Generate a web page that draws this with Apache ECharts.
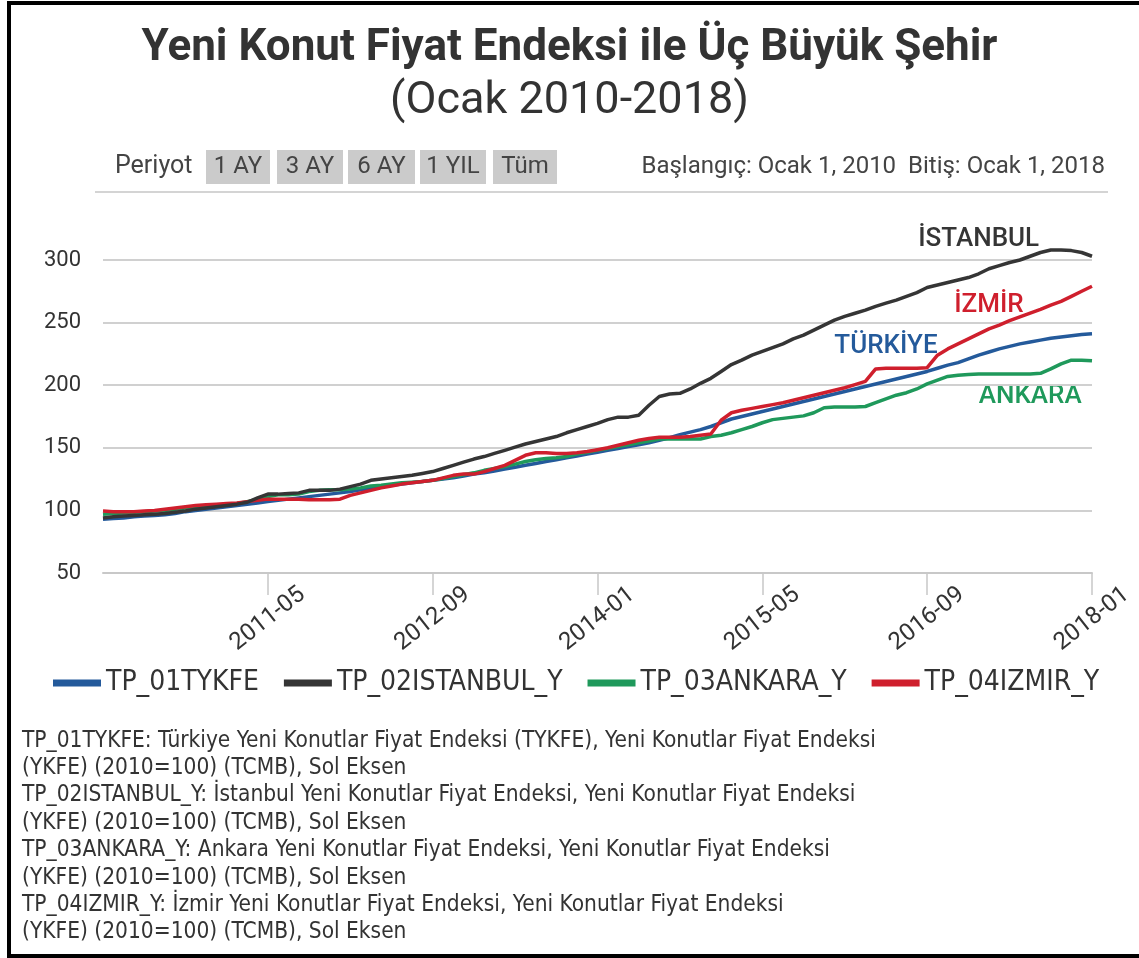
<!DOCTYPE html>
<html>
<head>
<meta charset="utf-8">
<script src="https://cdn.jsdelivr.net/npm/echarts@6/dist/echarts.min.js"></script>
<style>
  html, body { margin: 0; padding: 0; background: #fff; }
  #chart { width: 1139px; height: 958px; }
</style>
</head>
<body>
<div id="chart"></div>
<script>
// monthly, 2010-01 .. 2018-01
const months = [];
for (let y = 2010; y <= 2018; y++) {
    for (let m = 1; m <= 12; m++) {
        if (y === 2018 && m > 1) break;
        months.push(y + "-" + String(m).padStart(2, "0"));
    }
}

const seriesNames = ["TP_01TYKFE", "TP_02ISTANBUL_Y", "TP_03ANKARA_Y", "TP_04IZMIR_Y"];
const seriesColors = ["#245a9b", "#353535", "#1f995b", "#cf1f2d"];

const turkiye = [
    93, 93.5, 94, 95, 95.5, 96, 96.5, 97.5, 99, 100, 101, 102,
    103, 104, 105, 106, 107, 108, 109, 110, 111, 112, 113, 114,
    115, 116.5, 117.5, 119, 120, 121, 122, 123, 124, 125, 126, 127.5,
    129, 130, 131.5, 133, 134.5, 136, 137.5, 139, 140.5, 142, 143.5, 145,
    146.5, 148, 149.5, 151, 152.5, 154, 156, 158, 160.5, 162.5, 164.5, 167,
    170, 173, 175, 177, 179, 181, 183, 185, 187, 189, 191, 193,
    195, 197, 199, 201, 203, 205, 207, 209, 211, 213.5, 216, 218,
    221, 224, 226.5, 229, 231, 233, 234.5, 236, 237.5, 238.5, 239.5, 240.5,
    241
];

const istanbul = [
    94, 95, 95.5, 96, 96.5, 97, 97.5, 98.5, 99.5, 101, 102, 103,
    104, 105, 106.5, 110, 113, 113, 113.5, 114, 116, 116, 116, 117,
    119, 121, 124, 125, 126, 127, 128, 129.5, 131, 133.5, 136, 138.5,
    141, 143, 145.5, 148, 150.5, 153, 155, 157, 159, 162, 164.5, 167,
    169.5, 172.5, 174.5, 174.5, 176, 184, 191, 193, 193.5, 197, 201.5, 205.5,
    211, 216.5, 220, 224, 227, 230, 233, 237, 240, 244, 248, 252,
    255, 257.5, 260, 263, 265.5, 268, 271, 274, 278, 280, 282, 284,
    286, 289, 293, 295.5, 298, 300, 303, 306, 308, 308, 307.5, 306,
    303
];

const ankara = [
    97, 97.5, 98, 98.5, 99, 99.5, 100, 101, 102, 103, 103.5, 104,
    105, 105.5, 107, 109, 111, 112.5, 112.5, 113, 115, 116, 116.5, 116.5,
    117, 118, 119.5, 120, 121, 122, 122.5, 123, 124, 125.5, 127, 128.5,
    130, 132, 133.5, 135, 137, 139, 140.5, 141.5, 142, 143, 145, 146.5,
    148, 149.5, 151, 152.5, 154, 155.5, 157, 157, 157, 157, 157, 159,
    160, 162, 164.5, 167, 170, 172.5, 173.5, 174.5, 175.5, 178, 182, 182.5,
    182.5, 182.5, 183, 186, 189, 192, 194, 197, 201, 204, 207, 208,
    208.5, 209, 209, 209, 209, 209, 209, 209.5, 213, 217, 220, 220,
    219.5
];

const izmir = [
    99.5, 99, 99, 99, 99.5, 100, 101, 102, 103, 104, 104.5, 105,
    105.5, 106, 107, 108, 109, 109, 109, 109, 108.5, 108.5, 108.5, 109,
    112, 114, 116, 118, 119.5, 121, 122, 123, 124, 126, 128, 129,
    129, 131, 133.5, 136, 140, 144, 146, 146, 145.5, 145.5, 146, 147,
    148.5, 150, 152, 154, 156, 157.5, 158.5, 158.5, 158.5, 159, 160, 161,
    172, 178, 180, 181.5, 183, 184.5, 186, 188, 190, 192, 194, 196,
    198, 200.5, 203, 213, 213.5, 213.5, 213.5, 213.5, 214, 224, 229, 233,
    237, 241, 245, 248, 251.5, 254.5, 257.5, 260.5, 264, 267, 271, 275,
    279
];

const seriesData = [turkiye, istanbul, ankara, izmir];

// name labels drawn next to the lines: [text, month, value]
const lineLabels = [
    ["TÜRKİYE", "2016-05", 231],
    ["İSTANBUL", "2017-02", 316],
    ["ANKARA", "2017-07", 191],
    ["İZMİR", "2017-03", 264]
];

const periodButtons = ["1 AY", "3 AY", "6 AY", "1 YIL", "Tüm"];

const footnotes = [
    "TP_01TYKFE: Türkiye Yeni Konutlar Fiyat Endeksi (TYKFE), Yeni Konutlar Fiyat Endeksi",
    "(YKFE) (2010=100) (TCMB), Sol Eksen",
    "TP_02ISTANBUL_Y: İstanbul Yeni Konutlar Fiyat Endeksi, Yeni Konutlar Fiyat Endeksi",
    "(YKFE) (2010=100) (TCMB), Sol Eksen",
    "TP_03ANKARA_Y: Ankara Yeni Konutlar Fiyat Endeksi, Yeni Konutlar Fiyat Endeksi",
    "(YKFE) (2010=100) (TCMB), Sol Eksen",
    "TP_04IZMIR_Y: İzmir Yeni Konutlar Fiyat Endeksi, Yeni Konutlar Fiyat Endeksi",
    "(YKFE) (2010=100) (TCMB), Sol Eksen"
];

const NARROW = "'Liberation Sans Narrow', 'DejaVu Sans Condensed', Roboto, sans-serif";

const chart = echarts.init(document.getElementById("chart"));

const graphics = [
    // frame (left, top, bottom)
    { type: "rect", shape: { x: 7, y: 1, width: 1132, height: 4 }, style: { fill: "#000" } },
    { type: "rect", shape: { x: 7, y: 1, width: 4, height: 957 }, style: { fill: "#000" } },
    { type: "rect", shape: { x: 7, y: 954, width: 1132, height: 4 }, style: { fill: "#000" } },
    {
        type: "text", x: 115, y: 167,
        style: { text: "Periyot", font: "25px Roboto", fill: "#444", verticalAlign: "middle" }
    },
    {
        type: "text", x: 1105, y: 167,
        style: { text: "Başlangıç: Ocak 1, 2010  Bitiş: Ocak 1, 2018", font: "24px Roboto", fill: "#444", align: "right", verticalAlign: "middle" }
    },
    { type: "rect", shape: { x: 95, y: 191, width: 1013, height: 2 }, style: { fill: "#d4d4d4" } },
    {
        type: "text", x: 22, y: 727,
        style: { text: footnotes.join("\n"), font: "22.5px " + NARROW, fill: "#333", lineHeight: 27.4 }
    }
];

const btnX = [206, 277, 348, 420, 493];
const btnW = [64, 66, 67, 66, 64];
periodButtons.forEach((label, i) => {
    graphics.push({
        type: "rect", shape: { x: btnX[i], y: 150, width: btnW[i], height: 34 }, style: { fill: "#cbcbcb" }
    });
    graphics.push({
        type: "text", x: btnX[i] + btnW[i] / 2, y: 167,
        style: { text: label, font: "24px Roboto", fill: "#444", align: "center", verticalAlign: "middle" }
    });
});

chart.setOption({
    animation: false,
    title: [
        {
            text: "Yeni Konut Fiyat Endeksi ile Üç Büyük Şehir",
            left: "center", top: 22,
            textStyle: { fontFamily: "Roboto", fontSize: 44, fontWeight: "bold", color: "#333" }
        },
        {
            text: "(Ocak 2010-2018)",
            left: "center", top: 74,
            textStyle: { fontFamily: "Roboto", fontSize: 45, fontWeight: "normal", color: "#333" }
        }
    ],
    legend: {
        data: seriesNames,
        left: 48, top: 664,
        icon: "rect",
        itemWidth: 48, itemHeight: 7, itemGap: 25,
        textStyle: { fontFamily: NARROW, fontSize: 28, color: "#333" }
    },
    grid: { left: 103, right: 47, top: 260, bottom: 385 },
    xAxis: {
        type: "category",
        data: months,
        boundaryGap: false,
        axisLine: { lineStyle: { color: "#c8c8c8", width: 2 } },
        axisTick: {
            length: 22,
            interval: (i) => i > 0 && i % 16 === 0,
            lineStyle: { color: "#c8c8c8", width: 1.5 }
        },
        axisLabel: {
            interval: (i) => i > 0 && i % 16 === 0,
            rotate: 38,
            margin: 46,
            align: "center",
            verticalAlign: "middle",
            fontFamily: "Roboto", fontSize: 24, color: "#333"
        }
    },
    yAxis: {
        type: "value",
        min: 50, max: 300, interval: 50,
        axisLine: { show: false },
        axisTick: { show: false },
        axisLabel: { margin: 22, fontFamily: "Roboto", fontSize: 22, color: "#333" },
        splitLine: { lineStyle: { color: "#d0d0d0", width: 2 } }
    },
    series: seriesNames.map((name, i) => ({
        name: name,
        type: "line",
        data: seriesData[i],
        showSymbol: false,
        clip: false,
        color: seriesColors[i],
        lineStyle: { width: 3.5, color: seriesColors[i] },
        z: i === 1 ? 3 : 2
    })),
    graphic: graphics
});

// place the city names through the axes' scales
const nameTexts = lineLabels.map((l, i) => {
    const p = chart.convertToPixel({ gridIndex: 0 }, [l[1], l[2]]);
    return {
        type: "text", x: p[0], y: p[1],
        style: {
            text: l[0], font: "500 26px Roboto", fill: seriesColors[i],
            align: "center", verticalAlign: "middle"
        }
    };
});
chart.setOption({ graphic: graphics.concat(nameTexts) });
</script>
</body>
</html>
